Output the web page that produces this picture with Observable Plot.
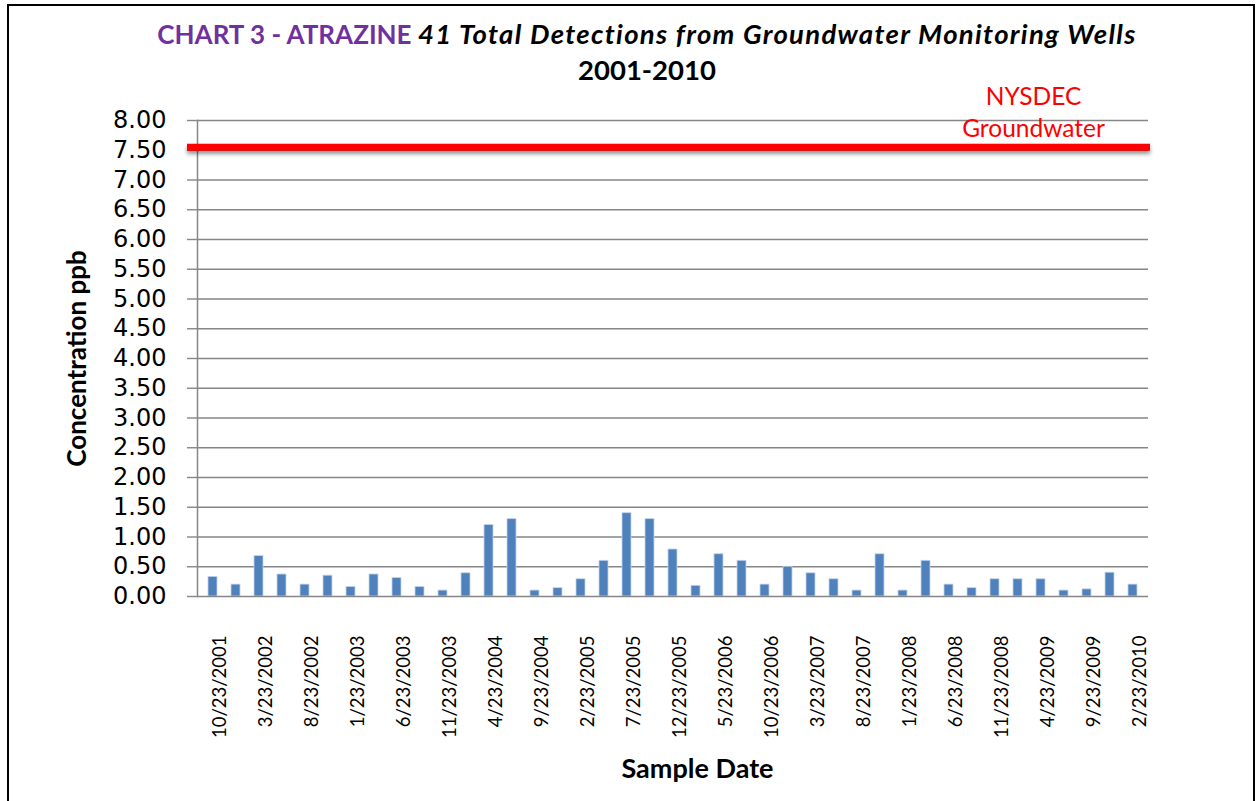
<!DOCTYPE html>
<html>
<head>
<meta charset="utf-8">
<script src="https://cdn.jsdelivr.net/npm/d3@7"></script>
<script src="https://cdn.jsdelivr.net/npm/@observablehq/plot@0.6"></script>
<style>
  html, body { margin: 0; padding: 0; background: #fff; width: 1259px; height: 801px; overflow: hidden; }
  #frame { position: absolute; left: 7px; top: 4px; width: 1248px; height: 820px; border: 2px solid #000; box-sizing: border-box; }
  #title { position: absolute; left: 147px; width: 1000px; top: 16px; text-align: center; white-space: nowrap;
           font-family: Lato, "Open Sans", sans-serif; font-weight: bold; font-size: 26px; line-height: 35px; color: #000; }
  #title .purple { color: #7030a0; font-style: normal; }
  #title .ital { font-style: italic; font-size: 27.5px; letter-spacing: 1.3px; }
  #title .yr { font-size: 27.5px; }
  #chart { position: absolute; left: 0; top: 80px; }
  .shadow { filter: drop-shadow(0px 3px 2px rgba(0,0,0,0.45)); }
</style>
</head>
<body>
<div id="frame"></div>
<div id="title"><span class="purple">CHART 3 - ATRAZINE</span> <span class="ital">41 Total Detections from Groundwater Monitoring Wells</span><br><span class="yr">2001-2010</span></div>
<div id="chart"></div>
<script>
// Atrazine concentration (ppb) for each of the 41 detections, in sample order
const values = [
  0.33, 0.20, 0.68, 0.37, 0.20, 0.35, 0.16, 0.37, 0.31, 0.16,
  0.10, 0.39, 1.20, 1.30, 0.10, 0.14, 0.29, 0.60, 1.40, 1.30,
  0.79, 0.18, 0.71, 0.60, 0.20, 0.50, 0.39, 0.29, 0.10, 0.71,
  0.10, 0.60, 0.20, 0.14, 0.29, 0.29, 0.29, 0.10, 0.12, 0.40,
  0.20
];
// Category labels shown on every second sample
const tickLabels = [
  "10/23/2001", "3/23/2002", "8/23/2002", "1/23/2003", "6/23/2003", "11/23/2003",
  "4/23/2004", "9/23/2004", "2/23/2005", "7/23/2005", "12/23/2005", "5/23/2006",
  "10/23/2006", "3/23/2007", "8/23/2007", "1/23/2008", "6/23/2008", "11/23/2008",
  "4/23/2009", "9/23/2009", "2/23/2010"
];
const yTicks = [0, 0.5, 1, 1.5, 2, 2.5, 3, 3.5, 4, 4.5, 5, 5.5, 6, 6.5, 7, 7.5, 8];
const standard = [7.5];
const standardLabel = ["NYSDEC\nGroundwater"];
const yTitle = ["Concentration ppb"];
const xTitle = ["Sample Date"];

const data = values.map((v, i) => ({i, v}));
const labeledIdx = tickLabels.map((_, k) => k * 2);

const grid = "#868686";
const chart = Plot.plot({
  width: 1259,
  height: 721,
  marginLeft: 197,
  marginRight: 111,
  marginTop: 40,
  marginBottom: 205,
  style: {background: "transparent", overflow: "visible"},
  x: {type: "band", domain: data.map(d => d.i), paddingInner: 0.6, paddingOuter: 0.3, axis: null},
  y: {domain: [0, 8], axis: null},
  marks: [
    Plot.gridY(yTicks.slice(1), {stroke: grid, strokeOpacity: 1, strokeWidth: 1.4}),
    Plot.barY(data, {x: "i", y: "v", fill: "#4f81bd", stroke: "#c5d5ea", strokeWidth: 0.8}),
    Plot.ruleY([0], {stroke: grid, strokeWidth: 1.5}),
    Plot.frame({anchor: "left", stroke: grid, strokeWidth: 1.5}),
    Plot.axisY(yTicks, {
      tickSize: 10, tickPadding: 21, stroke: grid, strokeWidth: 1.4, fill: "#000",
      tickFormat: d3.format(".2f"), fontFamily: "DejaVu Sans", fontSize: 24, label: null
    }),
    Plot.axisX(labeledIdx, {
      tickSize: 0, tickPadding: 39, tickRotate: -90, dx: 7, fill: "#000",
      tickFormat: i => tickLabels[i / 2], fontFamily: "Lato", fontSize: 18.5, label: null
    }),
    Plot.ruleY(standard, {stroke: "#ff0000", strokeWidth: 7, insetLeft: -10, insetRight: -2, dy: -3, className: "shadow"}),
    Plot.text(standardLabel, {
      text: d => d, frameAnchor: "top-right", dx: -115, dy: -9.5, textAnchor: "middle", lineAnchor: "middle",
      lineHeight: 1.27, fill: "#ff0000", fontFamily: "Lato", fontSize: 24.5
    }),
    Plot.text(yTitle, {
      text: d => d, frameAnchor: "left", dx: -120, rotate: -90, textAnchor: "middle", lineAnchor: "middle",
      fill: "#000", fontFamily: "Lato", fontWeight: "bold", fontSize: 26
    }),
    Plot.text(xTitle, {
      text: d => d, frameAnchor: "bottom", dx: 24.5, dy: 173, textAnchor: "middle", lineAnchor: "middle",
      fill: "#000", fontFamily: "Lato", fontWeight: "bold", fontSize: 27
    })
  ]
});
document.getElementById("chart").appendChild(chart);
</script>
</body>
</html>
